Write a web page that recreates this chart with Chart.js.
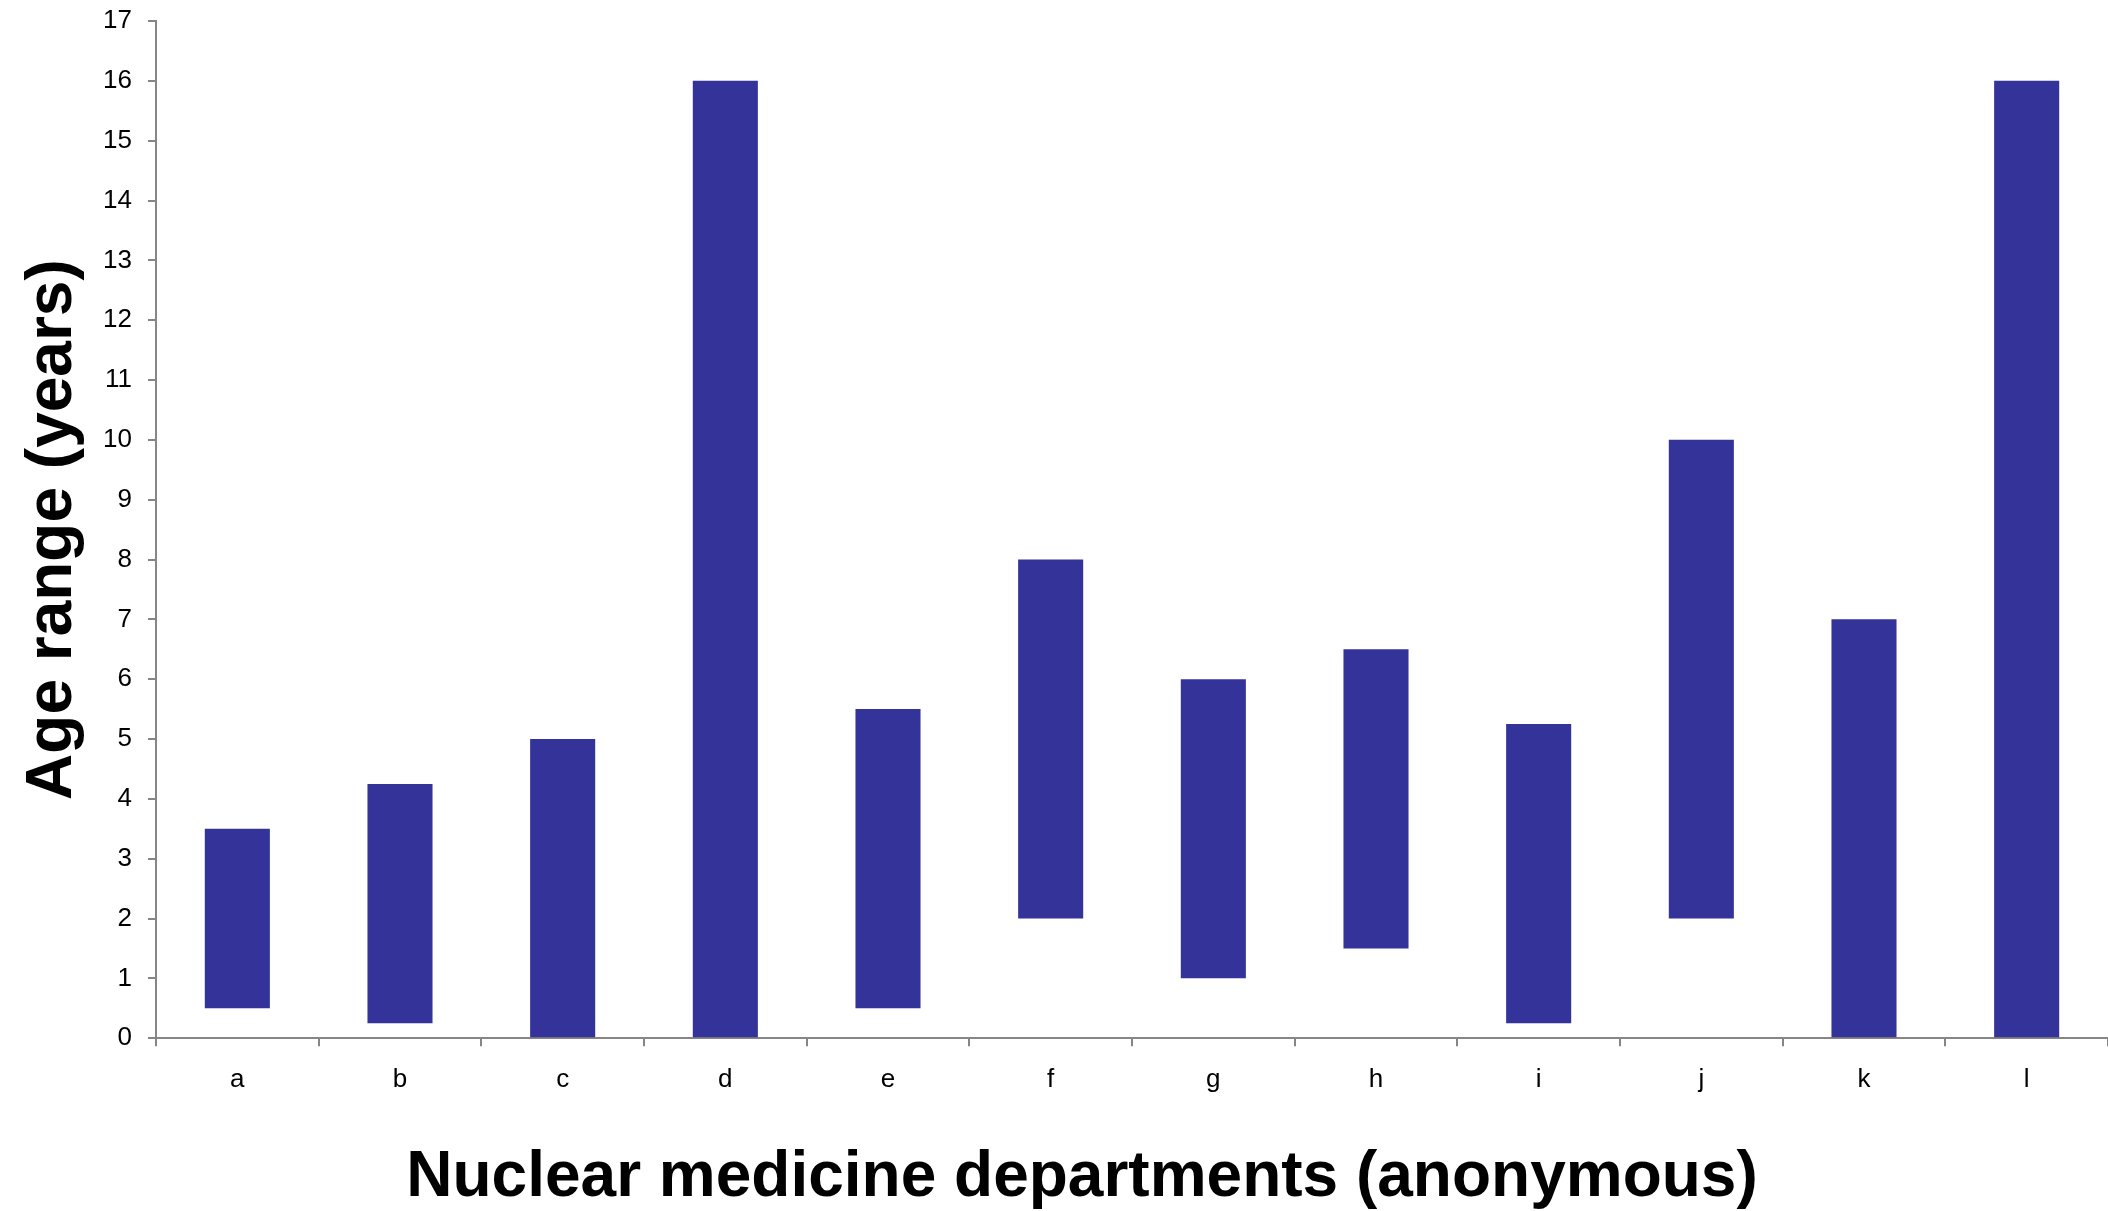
<!DOCTYPE html>
<html>
<head>
<meta charset="utf-8">
<script src="https://cdn.jsdelivr.net/npm/chart.js@4/dist/chart.umd.min.js"></script>
<style>
  html, body { margin: 0; padding: 0; background: #fff; }
  #wrap { width: 2108px; height: 1211px; }
</style>
</head>
<body>
<div id="wrap"><canvas id="chart"></canvas></div>
<script>
// Data: age range per department (years)
const departments = ["a","b","c","d","e","f","g","h","i","j","k","l"];
const ageMin = [0.5, 0.25, 0, 0, 0.5, 2, 1, 1.5, 0.25, 2, 0, 0];
const ageMax = [3.5, 4.25, 5, 16, 5.5, 8, 6, 6.5, 5.25, 10, 7, 16];
const yTicks = [0,1,2,3,4,5,6,7,8,9,10,11,12,13,14,15,16,17];

const axisGrey = "#868686";
const font = "'Liberation Sans', Arial, sans-serif";

const ranges = departments.map((d, i) => [ageMin[i], ageMax[i]]);

new Chart(document.getElementById("chart"), {
  type: "bar",
  data: {
    labels: departments,
    datasets: [{
      data: ranges,
      backgroundColor: "#333399",
      borderWidth: 0,
      borderSkipped: false,
      categoryPercentage: 1,
      barPercentage: 0.4
    }]
  },
  options: {
    responsive: true,
    maintainAspectRatio: false,
    animation: false,
    // left padding shifts the bottom title so it sits where the original does
    layout: { padding: { top: 21, right: 0, left: 56, bottom: 0 } },
    plugins: {
      legend: { display: false },
      tooltip: { enabled: false },
      title: {
        display: true,
        position: "bottom",
        text: "Nuclear medicine departments (anonymous)",
        color: "#000",
        font: { family: font, size: 64, weight: "bold", lineHeight: 1.2 },
        padding: { top: 0, bottom: -6 }
      }
    },
    scales: {
      x: {
        grid: { offset: true, drawOnChartArea: false, drawTicks: true, tickLength: 8, color: axisGrey, lineWidth: 2 },
        border: { color: axisGrey, width: 2 },
        ticks: { color: "#000", font: { family: font, size: 26 }, padding: 18, maxRotation: 0 },
        afterFit: (s) => { s.height = 102; }
      },
      y: {
        min: 0,
        max: 17,
        afterBuildTicks: (s) => { s.ticks = yTicks.map(v => ({ value: v })); },
        grid: { drawOnChartArea: false, drawTicks: true, tickLength: 8, color: axisGrey, lineWidth: 2 },
        border: { color: axisGrey, width: 2 },
        ticks: { color: "#000", font: { family: font, size: 26 }, padding: 16 },
        title: {
          display: true,
          text: "Age range (years)",
          color: "#000",
          font: { family: font, size: 64, weight: "bold", lineHeight: 1.2 },
          padding: { top: -41, bottom: 0 }
        },
        afterFit: (s) => { s.width = 100; s.paddingTop = 0; s.paddingBottom = 0; }
      }
    }
  }
});
</script>
</body>
</html>
